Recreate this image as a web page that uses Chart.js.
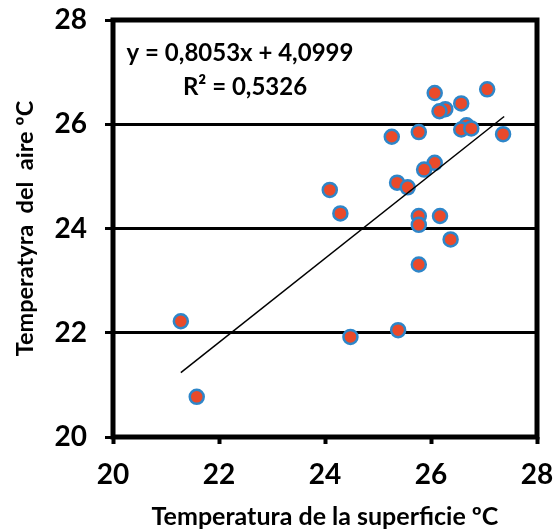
<!DOCTYPE html>
<html>
<head>
<meta charset="utf-8">
<script src="https://cdn.jsdelivr.net/npm/chart.js@4.4.0/dist/chart.umd.min.js"></script>
<style>
  html, body { margin: 0; padding: 0; background: #fff; }
  #wrap { width: 554px; height: 532px; }
</style>
</head>
<body>
<div id="wrap"><canvas id="canvas" width="554" height="532"></canvas></div>
<script>
  // surface temperature (x) vs air temperature (y)
  const surfaceTemp = [26.07, 27.06, 26.57, 26.27, 26.16, 26.67, 26.57, 26.76, 25.26, 25.77,
                       27.36, 26.07, 25.87, 25.36, 25.56, 25.77, 26.17, 25.77, 26.37, 25.77,
                       25.38, 21.28, 21.58, 24.48, 24.09, 24.29];
  const airTemp = [26.60, 26.67, 26.40, 26.29, 26.25, 25.98, 25.90, 25.92, 25.76, 25.85,
                   25.81, 25.26, 25.13, 24.88, 24.79, 24.24, 24.24, 24.07, 23.79, 23.31,
                   22.05, 22.22, 20.77, 21.92, 24.74, 24.29];

  const slope = 0.8053;
  const intercept = 4.0999;
  const trendX = [21.28, 27.38];
  const eqLine1 = "y = 0,8053x + 4,0999";
  const eqLine2 = "R² = 0,5326";

  const axisTicks = [20, 22, 24, 26, 28];
  const xTitle = "Temperatura de la superficie ºC";
  const yTitle = "Temperatyra  del  aire ºC";

  const FONT = "Lato, 'Open Sans', sans-serif";

  const points = surfaceTemp.map((x, i) => ({ x: x, y: airTemp[i] }));
  const trend = trendX.map(x => ({ x: x, y: slope * x + intercept }));

  const framePlugin = {
    id: 'frame',
    afterDatasetsDraw(chart) {
      const a = chart.chartArea;
      const c = chart.ctx;
      c.save();
      c.strokeStyle = '#000';
      c.lineWidth = 5;
      c.strokeRect(a.left, a.top, a.right - a.left, a.bottom - a.top);
      c.restore();
    },
    afterDraw(chart) {
      const c = chart.ctx;
      c.save();
      c.fillStyle = '#000';
      c.font = "bold 24px " + FONT;
      c.textAlign = 'center';
      c.textBaseline = 'middle';
      c.fillText(eqLine1, 240, 53);
      c.fillText(eqLine2, 245, 87);
      c.restore();
    }
  };

  new Chart(document.getElementById('canvas'), {
    type: 'scatter',
    data: {
      datasets: [
        {
          label: 'trend',
          data: trend,
          showLine: true,
          borderColor: '#000',
          borderWidth: 1.5,
          pointRadius: 0,
          fill: false
        },
        {
          label: 'data',
          data: points,
          backgroundColor: '#EA4A2A',
          borderColor: '#2E86C9',
          borderWidth: 2.5,
          pointRadius: 7
        }
      ]
    },
    options: {
      responsive: false,
      animation: false,
      layout: { padding: { top: 20, right: 17, left: 0, bottom: 0 } },
      plugins: { legend: { display: false }, tooltip: { enabled: false } },
      scales: {
        x: {
          type: 'linear',
          min: 20, max: 28,
          afterBuildTicks: s => { s.ticks = axisTicks.map(v => ({ value: v })); },
          afterFit: s => { s.height = 95; s.paddingLeft = 0; s.paddingRight = 0; },
          border: { display: false },
          grid: { drawOnChartArea: false, drawTicks: true, tickLength: 7, tickWidth: 4, tickColor: '#000' },
          ticks: { color: '#000', padding: 14, font: { family: FONT, size: 28, weight: 'bold' }, maxRotation: 0 },
          title: { display: true, text: xTitle, color: '#000', padding: 0,
                   font: { family: FONT, size: 25, weight: 'bold' } }
        },
        y: {
          type: 'linear',
          min: 20, max: 28,
          afterBuildTicks: s => { s.ticks = axisTicks.map(v => ({ value: v })); },
          afterFit: s => { s.width = 113; s.paddingTop = 0; s.paddingBottom = 0; },
          border: { display: false },
          grid: { color: '#000', lineWidth: 3, drawTicks: true, tickLength: 8, tickWidth: 3, tickColor: '#000' },
          ticks: { color: '#000', padding: 18, font: { family: FONT, size: 28, weight: 'bold' } },
          title: { display: true, text: yTitle, color: '#000', padding: 11,
                   font: { family: FONT, size: 23.5, weight: 'bold' } }
        }
      }
    },
    plugins: [framePlugin]
  });
</script>
</body>
</html>
